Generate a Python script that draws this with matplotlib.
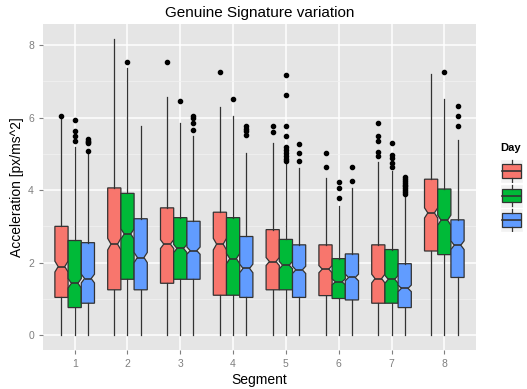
import matplotlib.pyplot as plt
from matplotlib.patches import Rectangle

plt.rcParams["font.family"] = ["Liberation Sans", "DejaVu Sans"]

segments = [1, 2, 3, 4, 5, 6, 7, 8]
days = ["1", "2", "3"]
colors = ["#F8766D", "#00BA38", "#619CFF"]

# box statistics, one row per day
q1 = [
    [1.04, 1.25, 1.43, 1.10, 1.25, 1.09, 0.88, 2.32],
    [0.76, 1.54, 1.54, 1.10, 1.25, 1.01, 0.88, 2.22],
    [0.88, 1.25, 1.54, 1.04, 1.04, 0.97, 0.76, 1.59],
]
med = [
    [1.89, 2.51, 2.51, 2.51, 2.03, 1.82, 1.56, 3.37],
    [1.43, 2.79, 2.39, 2.11, 1.93, 1.47, 1.54, 3.17],
    [1.56, 2.14, 2.33, 1.84, 1.80, 1.59, 1.29, 2.48],
]
q3 = [
    [3.00, 4.06, 3.51, 3.39, 2.91, 2.49, 2.49, 4.30],
    [2.61, 3.91, 3.24, 3.24, 2.64, 2.11, 2.36, 4.03],
    [2.55, 3.21, 3.14, 2.72, 2.49, 2.24, 1.97, 3.18],
]
whis_lo = [
    [0, 0, 0, 0, 0, 0, 0, 0],
    [0, 0, 0, 0, 0, 0, 0, 0],
    [0, 0, 0, 0, 0, 0, 0, 0],
]
whis_hi = [
    [5.98, 8.17, 6.56, 6.28, 5.31, 4.32, 4.78, 7.20],
    [5.20, 7.38, 5.84, 6.03, 4.74, 3.57, 4.53, 6.51],
    [5.02, 5.77, 5.50, 5.01, 4.60, 4.05, 3.80, 5.38],
]
notch = [
    [0.15, 0.16, 0.12, 0.16, 0.11, 0.10, 0.12, 0.14],
    [0.13, 0.14, 0.11, 0.14, 0.10, 0.08, 0.11, 0.14],
    [0.12, 0.14, 0.10, 0.12, 0.10, 0.09, 0.09, 0.12],
]
outliers = [
    [[6.05], [], [7.53], [7.26], [5.59, 5.77], [4.63, 5.01],
     [4.93, 5.04, 5.35, 5.5, 5.84], []],
    [[5.35, 5.48, 5.63, 5.93], [7.53], [6.45], [6.5],
     [4.8, 4.86, 4.93, 5.02, 5.1, 5.2, 5.5, 5.77, 6.63, 7.17],
     [3.78, 4.06, 4.21], [4.63, 4.75, 4.88, 4.97, 5.3], [7.26]],
    [[5.08, 5.29, 5.33, 5.36, 5.41], [], [5.66, 5.84, 6.0, 6.03],
     [5.52, 5.62, 5.68, 5.76], [4.81, 5.02, 5.26], [4.26, 4.65],
     [3.9, 3.95, 4.0, 4.05, 4.1, 4.15, 4.2, 4.25, 4.3, 4.35],
     [5.77, 6.05, 6.33]],
]

edge = "#333333"
fig = plt.figure(figsize=(5.27, 3.89), dpi=100)
ax = fig.add_axes([43 / 527, 1 - 350 / 389, 433 / 527, 326 / 389])
ax.set_facecolor("#E5E5E5")

offsets = [-0.25, 0, 0.25]
for d in range(3):
    stats = []
    for s in range(8):
        stats.append(dict(
            med=med[d][s], q1=q1[d][s], q3=q3[d][s],
            whislo=whis_lo[d][s], whishi=whis_hi[d][s],
            cilo=med[d][s] - notch[d][s], cihi=med[d][s] + notch[d][s],
            fliers=outliers[d][s],
        ))
    ax.bxp(stats, positions=[x + offsets[d] for x in segments], widths=0.25,
           shownotches=True, showcaps=False, patch_artist=True,
           boxprops=dict(facecolor=colors[d], edgecolor=edge, linewidth=0.9),
           medianprops=dict(color=edge, linewidth=1.2),
           whiskerprops=dict(color=edge, linewidth=0.9),
           flierprops=dict(marker="o", markerfacecolor="black",
                           markeredgecolor="black", markersize=3),
           manage_ticks=False, zorder=3)

ax.set_xlim(0.4, 8.6)
ax.set_ylim(-0.41, 8.58)
ax.set_xticks(segments)
ax.set_xticklabels([str(s) for s in segments])
ax.set_yticks([0, 2, 4, 6, 8])
ax.set_yticks([1, 3, 5, 7], minor=True)
ax.grid(True, which="major", color="white", linewidth=1.1, zorder=0)
ax.grid(True, which="minor", axis="y", color="#F2F2F2", linewidth=0.5, zorder=0)
ax.set_axisbelow(True)
for sp in ax.spines.values():
    sp.set_visible(False)
ax.tick_params(which="major", colors="#7F7F7F", labelsize=7.5, length=3, width=0.8)
ax.tick_params(which="minor", length=0)

ax.set_xlabel("Segment", fontsize=10, labelpad=3)
ax.set_ylabel("Acceleration [px/ms^2]", fontsize=10, labelpad=3)
ax.set_title("Genuine Signature variation", fontsize=11, pad=5)

# legend: title plus boxplot keys, no labels
fig.text(500 / 527, 1 - 148 / 389, "Day", fontsize=8, fontweight="bold",
         va="center", ha="left")
for d in range(3):
    top = 159 + 24.5 * d
    kax = fig.add_axes([500 / 527, 1 - (top + 24) / 389, 23 / 527, 24 / 389])
    kax.set_xlim(0, 1)
    kax.set_ylim(0, 1)
    kax.axis("off")
    kax.add_patch(Rectangle((0, 0), 1, 1, facecolor="#F2F2F2", edgecolor="white", lw=1))
    kax.plot([0.5, 0.5], [0.05, 0.22], color=edge, lw=0.9)
    kax.plot([0.5, 0.5], [0.78, 0.95], color=edge, lw=0.9)
    kax.add_patch(Rectangle((0.1, 0.22), 0.8, 0.56, facecolor=colors[d],
                            edgecolor=edge, lw=0.9))
    kax.plot([0.1, 0.9], [0.5, 0.5], color=edge, lw=1.2)

fig.savefig("out.png", dpi=100)
